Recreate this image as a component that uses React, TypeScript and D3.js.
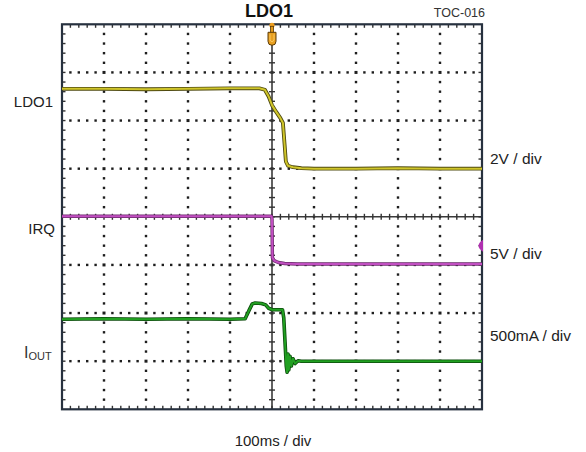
import React from "react";
import * as d3 from "d3";

// time in divisions (0..10), value in divisions (center = 0)
const ldo1T = [0, 1, 2, 3, 4, 4.7, 4.83, 4.92, 5.0, 5.1, 5.2, 5.26, 5.3, 5.33, 5.38, 5.5, 5.7, 6, 7, 8, 9, 10];
const ldo1V = [2.66, 2.66, 2.65, 2.66, 2.67, 2.67, 2.64, 2.5, 2.32, 2.18, 2.05, 1.95, 1.5, 1.15, 1.06, 1.03, 1.01, 1.0, 1.0, 1.01, 1.0, 1.0];

const irqT = [0, 4.99, 5.0, 5.01, 5.05, 5.15, 5.3, 5.6, 10];
const irqV = [0.01, 0.01, -0.05, -0.85, -0.91, -0.95, -0.97, -0.98, -0.98];

const ioutT = [0, 1, 2, 3, 4, 4.36, 4.45, 4.53, 4.6, 4.75, 4.85, 4.92, 5.0, 5.25, 5.28, 5.31, 5.34, 5.36, 5.38, 5.4, 5.43, 5.46, 5.5, 5.55, 5.62, 5.7, 7, 10];
const ioutV = [-2.13, -2.12, -2.13, -2.12, -2.13, -2.12, -1.95, -1.81, -1.79, -1.8, -1.83, -1.9, -1.93, -1.93, -2.1, -2.6, -3.1, -3.23, -2.85, -3.18, -2.9, -3.1, -2.95, -3.05, -2.99, -3.0, -3.0, -3.0];

const channelLabels = ["LDO1", "IRQ"];
const scaleLabels = ["2V / div", "5V / div", "500mA / div"];
const timeLabel = "100ms / div";
const title = "LDO1";
const figId = "TOC-016";

const X_DIVS = 10;
const Y_DIVS = 8;

export default function App() {
  const left = 62, right = 482, top = 24.3, bottom = 409.3;
  const x = d3.scaleLinear().domain([0, X_DIVS]).range([left, right]);
  const y = d3.scaleLinear().domain([Y_DIVS / 2, -Y_DIVS / 2]).range([top, bottom]);

  const mk = (ts: number[], vs: number[]) =>
    d3.line<number>().x((_, i) => x(ts[i])).y((v) => y(v))(vs) || "";

  const dots: JSX.Element[] = [];
  // horizontal dotted lines
  for (let j = -3; j <= 3; j++) {
    if (j === 0) continue;
    for (let k = 1; k < X_DIVS * 5; k++) {
      const t = k / 5;
      const major = k % 5 === 0;
      const s = major ? 3 : 2.4;
      dots.push(
        <rect key={`h${j}_${k}`} x={x(t) - s / 2} y={y(j) - s / 2} width={s} height={s} fill="#1e1e1e" />
      );
    }
  }
  // vertical dotted lines
  for (let i = 1; i < X_DIVS; i++) {
    if (i === 5) continue;
    for (let k = 1; k < Y_DIVS * 5; k++) {
      const v = -4 + k / 5;
      if (Math.abs(v - Math.round(v)) < 1e-6 && Math.round(v) !== 0) continue;
      dots.push(
        <rect key={`v${i}_${k}`} x={x(i) - 1.2} y={y(v) - 1.2} width={2.4} height={2.4} fill="#1e1e1e" />
      );
    }
  }

  const ticks: JSX.Element[] = [];
  for (let k = 1; k < X_DIVS * 5; k++) {
    const t = k / 5;
    ticks.push(<line key={`tt${k}`} x1={x(t)} x2={x(t)} y1={top} y2={top + 3.5} stroke="#333" strokeWidth={1.4} />);
    ticks.push(<line key={`tb${k}`} x1={x(t)} x2={x(t)} y1={bottom} y2={bottom - 3.5} stroke="#333" strokeWidth={1.4} />);
    ticks.push(<line key={`tc${k}`} x1={x(t)} x2={x(t)} y1={y(0) - 3} y2={y(0) + 3} stroke="#333" strokeWidth={1.4} />);
  }
  for (let k = 1; k < Y_DIVS * 5; k++) {
    const v = -4 + k / 5;
    ticks.push(<line key={`tl${k}`} x1={left} x2={left + 3.5} y1={y(v)} y2={y(v)} stroke="#333" strokeWidth={1.4} />);
    ticks.push(<line key={`tr${k}`} x1={right} x2={right - 3.5} y1={y(v)} y2={y(v)} stroke="#333" strokeWidth={1.4} />);
    ticks.push(<line key={`tm${k}`} x1={x(5) - 3} x2={x(5) + 3} y1={y(v)} y2={y(v)} stroke="#333" strokeWidth={1.4} />);
  }

  const cx = x(5);
  const mY = y(-0.6);
  const font = "'Liberation Sans', Arial, sans-serif";

  return (
    <svg width={586} height={452} style={{ position: "absolute", left: 0, top: 0, background: "#fff" }} fontFamily={font}>
      <rect width={586} height={452} fill="#fff" />
      {dots}
      {/* center lines */}
      <line x1={left} x2={right} y1={y(0)} y2={y(0)} stroke="#3a3a3a" strokeWidth={1.6} />
      <line x1={cx} x2={cx} y1={top} y2={bottom} stroke="#3a3a3a" strokeWidth={1.6} />
      {ticks}
      {/* border */}
      <rect x={left} y={top} width={right - left} height={bottom - top} fill="none" stroke="#27313f" strokeWidth={2.2} />

      {/* traces */}
      <path d={mk(ldo1T, ldo1V)} fill="none" stroke="#4f4a10" strokeWidth={3.8} strokeLinejoin="round" />
      <path d={mk(ldo1T, ldo1V)} fill="none" stroke="#cfc52a" strokeWidth={2} strokeLinejoin="round" />
      <path d={mk(irqT, irqV)} fill="none" stroke="#6a2a6a" strokeWidth={3.4} strokeLinejoin="round" />
      <path d={mk(irqT, irqV)} fill="none" stroke="#c24fc2" strokeWidth={2} strokeLinejoin="round" />
      <path d={mk(ioutT, ioutV)} fill="none" stroke="#0b4a0b" strokeWidth={3.6} strokeLinejoin="round" />
      <path d={mk(ioutT, ioutV)} fill="none" stroke="#22a022" strokeWidth={2} strokeLinejoin="round" />

      {/* trigger marker */}
      <circle cx={cx} cy={top + 1} r={2.6} fill="#f0a020" />
      <rect x={cx - 1.6} y={top + 2} width={3.2} height={7} fill="#e39a1c" stroke="#5a3a08" strokeWidth={0.8} />
      <path d={`M${cx - 4},${top + 8} H${cx + 4} V${top + 17} Q${cx + 4},${top + 21} ${cx},${top + 21} Q${cx - 4},${top + 21} ${cx - 4},${top + 17} Z`} fill="#e8a020" stroke="#5a3a08" strokeWidth={1} />
      <path d={`M${cx - 2},${top + 10} V${top + 16} Q${cx},${top + 19} ${cx + 2},${top + 16} V${top + 10}`} fill="none" stroke="#ffd070" strokeWidth={0.8} />

      {/* channel marker on right */}
      <path d={`M${right + 1},${mY - 6} Q${right - 8},${mY} ${right + 1},${mY + 6} Z`} fill="#b030b0" />

      {/* texts */}
      <text x={269} y={17} textAnchor="middle" fontSize={18} fontWeight="bold" fill="#111">{title}</text>
      <text x={485} y={17} textAnchor="end" fontSize={12.5} fill="#333">{figId}</text>

      <text x={53} y={107} textAnchor="end" fontSize={15} fill="#222">{channelLabels[0]}</text>
      <text x={55} y={234} textAnchor="end" fontSize={15} fill="#222">{channelLabels[1]}</text>
      <text x={24} y={358} fontSize={16} fill="#333">
        I<tspan fontSize={11} dy={2}>OUT</tspan>
      </text>

      <text x={490} y={164} fontSize={15.5} fill="#222">{scaleLabels[0]}</text>
      <text x={490} y={259} fontSize={15.5} fill="#222">{scaleLabels[1]}</text>
      <text x={490} y={341} fontSize={15.5} fill="#222">{scaleLabels[2]}</text>

      <text x={273} y={446} textAnchor="middle" fontSize={15} fill="#222">{timeLabel}</text>
    </svg>
  );
}
